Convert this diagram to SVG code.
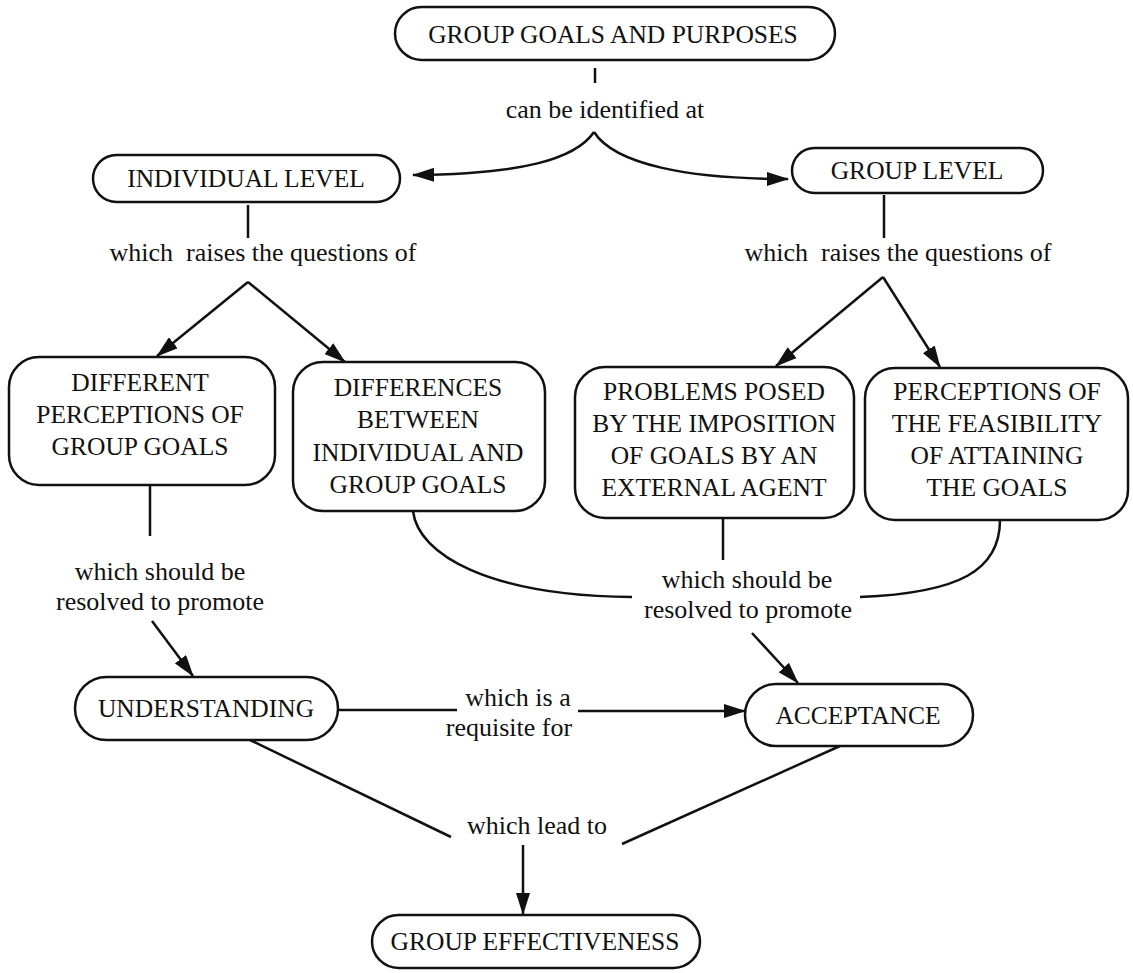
<svg xmlns="http://www.w3.org/2000/svg" width="1133" height="973" viewBox="0 0 1133 973">
  <defs>
    <style>
      .node rect { fill: #fff; stroke: #111; stroke-width: 2.5; }
      .node text { font-family: "Liberation Serif", "Times New Roman", serif; font-size: 25.5px; fill: #111; text-anchor: middle; }
      .lbl { font-family: "Liberation Serif", "Times New Roman", serif; font-size: 26px; fill: #111; text-anchor: middle; white-space: pre; }
      .edge { fill: none; stroke: #111; stroke-width: 2.5; }
    </style>
    <marker id="ah" viewBox="0 0 22 14" refX="21" refY="7" markerWidth="22" markerHeight="14" markerUnits="userSpaceOnUse" orient="auto">
      <path d="M0,0 L22,7 L0,14 z" fill="#111"/>
    </marker>
  </defs>
  <rect width="1133" height="973" fill="#fff"/>

  <!-- connectors -->
  <g id="connectors">
    <line class="edge" x1="595" y1="68" x2="595" y2="83"/>
    <path class="edge" d="M594,132 C575,160 520,174 413,175" marker-end="url(#ah)"/>
    <path class="edge" d="M594,132 C615,165 690,179 788,179" marker-end="url(#ah)"/>

    <line class="edge" x1="248" y1="205" x2="248" y2="238"/>
    <line class="edge" x1="248" y1="282" x2="157" y2="356" marker-end="url(#ah)"/>
    <line class="edge" x1="248" y1="282" x2="345" y2="362" marker-end="url(#ah)"/>

    <line class="edge" x1="884" y1="195" x2="884" y2="238"/>
    <line class="edge" x1="883" y1="277" x2="776" y2="366" marker-end="url(#ah)"/>
    <line class="edge" x1="883" y1="277" x2="940" y2="367" marker-end="url(#ah)"/>

    <line class="edge" x1="150" y1="485" x2="150" y2="536"/>
    <line class="edge" x1="152" y1="621" x2="193" y2="676" marker-end="url(#ah)"/>

    <path class="edge" d="M413,511 C418,555 490,596 632,597"/>
    <line class="edge" x1="723" y1="518" x2="723" y2="560"/>
    <path class="edge" d="M860,597 C960,593 1000,570 1000,520"/>
    <line class="edge" x1="752" y1="633" x2="798" y2="683" marker-end="url(#ah)"/>

    <line class="edge" x1="338" y1="710" x2="457" y2="710"/>
    <line class="edge" x1="578" y1="711" x2="745" y2="711" marker-end="url(#ah)"/>

    <line class="edge" x1="250" y1="740" x2="451" y2="837"/>
    <line class="edge" x1="840" y1="746" x2="622" y2="844"/>
    <line class="edge" x1="523" y1="845" x2="523" y2="914" marker-end="url(#ah)"/>
  </g>

  <!-- link phrases -->
  <g id="labels">
    <text class="lbl" x="605" y="118">can be identified at</text>
    <text class="lbl" x="263" y="261">which  raises the questions of</text>
    <text class="lbl" x="898" y="261">which  raises the questions of</text>
    <text class="lbl" x="160" y="580">which should be</text>
    <text class="lbl" x="160" y="610">resolved to promote</text>
    <text class="lbl" x="747" y="588">which should be</text>
    <text class="lbl" x="748" y="618">resolved to promote</text>
    <text class="lbl" x="518" y="706">which is a</text>
    <text class="lbl" x="509" y="736">requisite for</text>
    <text class="lbl" x="537" y="834">which lead to</text>
  </g>

  <g id="n-goals" class="node">
    <rect x="395" y="7" width="440" height="53" rx="26.5"/>
    <text x="613" y="43">GROUP GOALS AND PURPOSES</text>
  </g>
  <g id="n-individual" class="node">
    <rect x="93" y="155" width="307" height="47" rx="23.5"/>
    <text x="246" y="187">INDIVIDUAL LEVEL</text>
  </g>
  <g id="n-group" class="node">
    <rect x="792" y="148" width="251" height="45" rx="22.5"/>
    <text x="917" y="179">GROUP LEVEL</text>
  </g>
  <g id="n-perceptions" class="node">
    <rect x="9" y="357" width="266" height="128" rx="30"/>
    <text x="140" y="391">DIFFERENT</text>
    <text x="140" y="423">PERCEPTIONS OF</text>
    <text x="140" y="455">GROUP GOALS</text>
  </g>
  <g id="n-differences" class="node">
    <rect x="293" y="362" width="252" height="149" rx="30"/>
    <text x="418" y="396">DIFFERENCES</text>
    <text x="418" y="428">BETWEEN</text>
    <text x="418" y="461">INDIVIDUAL AND</text>
    <text x="418" y="493">GROUP GOALS</text>
  </g>
  <g id="n-problems" class="node">
    <rect x="575" y="367" width="279" height="151" rx="30"/>
    <text x="714" y="400">PROBLEMS POSED</text>
    <text x="714" y="432">BY THE IMPOSITION</text>
    <text x="714" y="464">OF GOALS BY AN</text>
    <text x="714" y="496">EXTERNAL AGENT</text>
  </g>
  <g id="n-feasibility" class="node">
    <rect x="865" y="368" width="263" height="152" rx="30"/>
    <text x="997" y="400">PERCEPTIONS OF</text>
    <text x="997" y="432">THE FEASIBILITY</text>
    <text x="997" y="464">OF ATTAINING</text>
    <text x="997" y="496">THE GOALS</text>
  </g>
  <g id="n-understanding" class="node">
    <rect x="75" y="677" width="263" height="63" rx="31.5"/>
    <text x="206" y="717">UNDERSTANDING</text>
  </g>
  <g id="n-acceptance" class="node">
    <rect x="745" y="684" width="228" height="62" rx="31"/>
    <text x="858" y="724">ACCEPTANCE</text>
  </g>
  <g id="n-effectiveness" class="node">
    <rect x="372" y="915" width="328" height="53" rx="26.5"/>
    <text x="535" y="950">GROUP EFFECTIVENESS</text>
  </g>
</svg>
